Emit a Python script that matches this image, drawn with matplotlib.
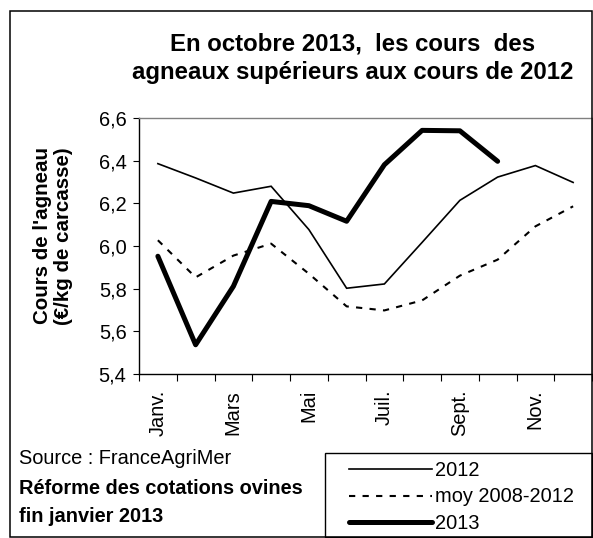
import matplotlib
matplotlib.use("Agg")
import matplotlib.pyplot as plt
from matplotlib.patches import Rectangle
from matplotlib.ticker import FuncFormatter, FixedLocator

plt.rcParams['font.family'] = ['Liberation Sans', 'DejaVu Sans']

# ---- data ----
months = ['Janv.', 'Févr.', 'Mars', 'Avr.', 'Mai', 'Juin', 'Juil.', 'Août', 'Sept.', 'Oct.', 'Nov.', 'Déc.']
shown_labels = ['Janv.', 'Mars', 'Mai', 'Juil.', 'Sept.', 'Nov.']
cours_2012 = [6.386, 6.319, 6.248, 6.280, 6.077, 5.802, 5.822, 6.017, 6.214, 6.323, 6.377, 6.298]
moy_2008_2012 = [6.027, 5.853, 5.955, 6.011, 5.870, 5.717, 5.698, 5.745, 5.861, 5.936, 6.092, 6.186]
cours_2013 = [5.952, 5.537, 5.811, 6.209, 6.189, 6.116, 6.381, 6.542, 6.540, 6.397]
y_ticks = [5.4, 5.6, 5.8, 6.0, 6.2, 6.4, 6.6]

W, H = 593, 538
fig = plt.figure(figsize=(W / 100, H / 100), dpi=100)

def fx(px):
    return px / W

def fy(py):
    return 1 - py / H

ax = fig.add_axes([fx(139), fy(374), fx(592) - fx(139), fy(118) - fy(374)])

xs = [i + 0.5 for i in range(len(months))]
l1, = ax.plot(xs, cours_2012, color='black', lw=1.2, solid_joinstyle='miter', label='2012')
l2, = ax.plot(xs, moy_2008_2012, color='black', lw=1.5, linestyle=(0, (3, 3.5)), label='moy 2008-2012')
l3, = ax.plot(xs[:len(cours_2013)], cours_2013, color='black', lw=3.6,
              solid_capstyle='round', solid_joinstyle='round', label='2013')

ax.set_xlim(0, 12)
ax.set_ylim(5.4, 6.6)
ax.set_yticks(y_ticks)
ax.yaxis.set_major_formatter(FuncFormatter(lambda v, p: f"{v:.1f}".replace('.', ',')))
ax.tick_params(axis='y', direction='out', length=4.5, width=0.8, pad=4.5, labelsize=14.4, color='black')

ax.xaxis.set_major_locator(FixedLocator(list(range(13))))
ax.xaxis.set_major_formatter(FuncFormatter(lambda v, p: ''))
ax.xaxis.set_minor_locator(FixedLocator([months.index(m) + 0.5 for m in shown_labels]))
ax.set_xticklabels(shown_labels, minor=True, rotation=90, fontsize=14.4, va='top', ha='center')
ax.tick_params(axis='x', which='major', direction='out', length=5, width=0.8, color='black')
ax.tick_params(axis='x', which='minor', length=0, pad=11.5)

for s in ['top', 'right']:
    ax.spines[s].set_color('#808080')
    ax.spines[s].set_linewidth(1.0)
for s in ['left', 'bottom']:
    ax.spines[s].set_color('black')
    ax.spines[s].set_linewidth(1.0)

ax.set_ylabel("Cours de l'agneau\n(€/kg de carcasse)", fontsize=14.8, fontweight='bold',
              va='center', ha='center', linespacing=1.15)
ax.yaxis.set_label_coords((53 - 139) / (592 - 139), (374 - 236) / (374 - 118))

fig.text(fx(353), fy(58), "En octobre 2013,  les cours  des\nagneaux supérieurs aux cours de 2012",
         ha='center', va='center', fontsize=17.3, fontweight='bold', linespacing=1.32)

fig.text(fx(19), fy(458), "Source : FranceAgriMer", ha='left', va='center', fontsize=14.4)
fig.text(fx(19), fy(488), "Réforme des cotations ovines", ha='left', va='center', fontsize=14.4, fontweight='bold')
fig.text(fx(19), fy(517), "fin janvier 2013", ha='left', va='center', fontsize=14.4, fontweight='bold')

# outer chart border
fig.add_artist(Rectangle((fx(10), fy(537)), fx(592) - fx(10), fy(11) - fy(537),
                         transform=fig.transFigure, fill=False, edgecolor='black', lw=1.1))
# legend box
fig.add_artist(Rectangle((fx(325), fy(537)), fx(592) - fx(325), fy(453) - fy(537),
                         transform=fig.transFigure, fill=False, edgecolor='black', lw=1.0))

leg = fig.legend(handles=[l1, l2, l3], loc='center left', bbox_to_anchor=(fx(349), fy(497)),
                 bbox_transform=fig.transFigure, frameon=False, fontsize=14.4,
                 handlelength=4.15, handletextpad=0.15, labelspacing=0.38, borderpad=0,
                 borderaxespad=0)

fig.savefig('out.png', dpi=100)
